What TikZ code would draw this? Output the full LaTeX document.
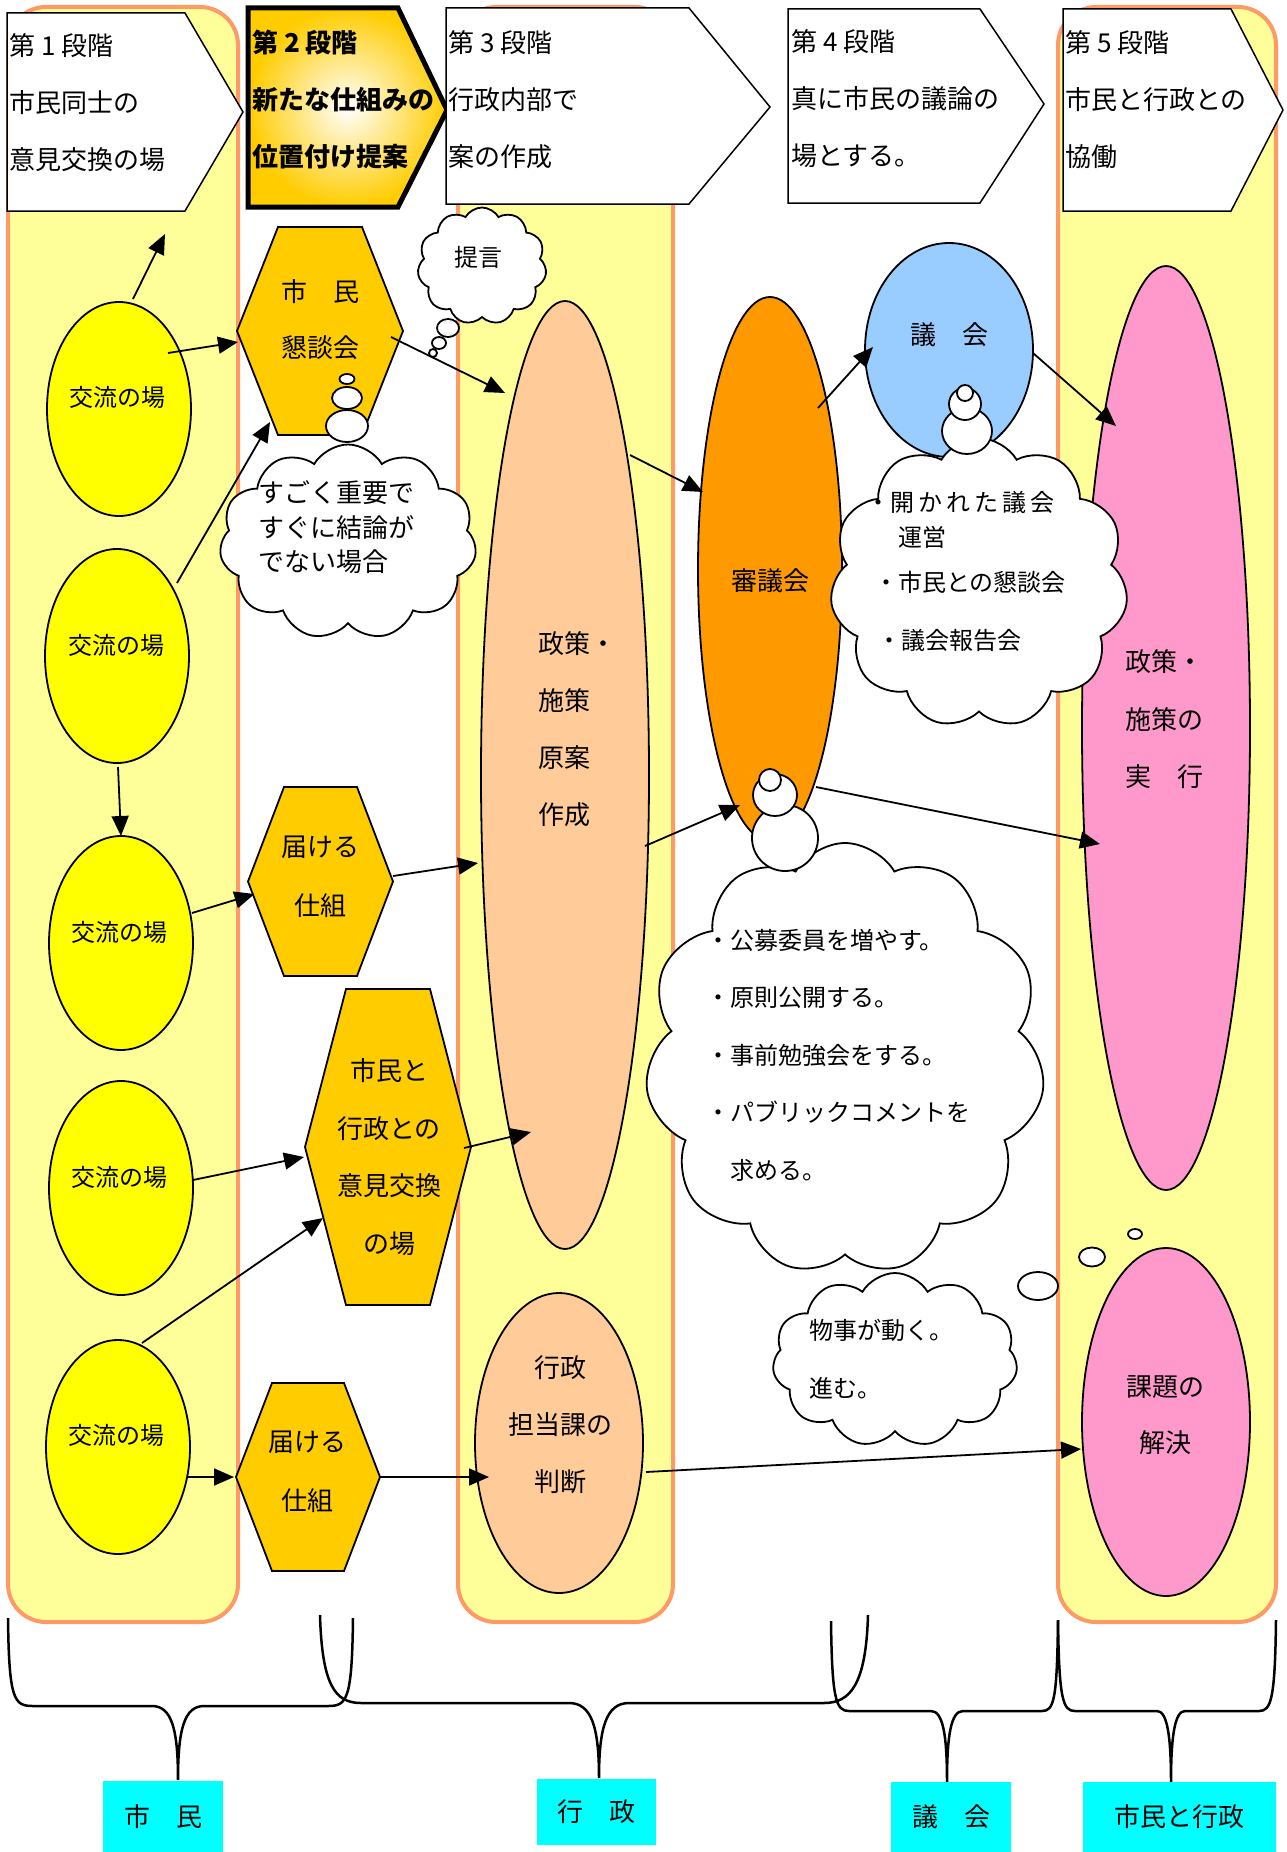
\documentclass[tikz,border=0pt]{standalone}
\usepackage{fontspec}
\setmainfont{Noto Sans CJK JP}
\usetikzlibrary{shapes.geometric,shapes.symbols,arrows.meta,calc}
\definecolor{colfill}{HTML}{FFFF99}
\definecolor{colline}{HTML}{FF9966}
\definecolor{yel}{HTML}{FFFF00}
\definecolor{hexc}{HTML}{FFCC00}
\definecolor{peach}{HTML}{FFCC99}
\definecolor{orng}{HTML}{FF9900}
\definecolor{blu}{HTML}{99CCFF}
\definecolor{pnk}{HTML}{FF99CC}
\definecolor{cyn}{HTML}{00FFFF}
\tikzset{
  column/.style={fill=colfill, draw=colline, line width=4pt, rounded corners=38pt},
  header/.style={fill=white, draw=black, line width=1.5pt},
  oval/.style={ellipse, draw=black, line width=1.8pt, inner sep=0pt, outer sep=0pt},
  hexline/.style={fill=hexc, draw=black, line width=1.8pt},
  conn/.style={line width=1.8pt, -{Triangle[length=20pt,width=17pt]}},
  bubble/.style={fill=white, draw=black, line width=1.8pt},
  cloudy/.style={cloud, cloud puffs=11, cloud puff arc=120, cloud ignores aspect, draw=black, fill=white, line width=1.8pt, inner sep=0pt},
  brace/.style={line width=2.5pt},
  tag/.style={fill=cyn, inner sep=0pt, font=\fontsize{26}{30}\selectfont},
  f24/.style={inner sep=0pt, font=\fontsize{24}{30}\selectfont},
  f26/.style={inner sep=0pt, font=\fontsize{26}{30}\selectfont},
  hdr/.style={inner sep=0pt, anchor=west, align=left, font=\fontsize{26}{57}\selectfont},
}
\newcommand\myhex[6]{%
  \node[inner sep=0pt, outer sep=0pt, minimum width=#4pt, minimum height=#5pt] (#1) at (#2,#3) {};
  \draw[hexline] ([xshift=#6pt]#1.north west) -- ([xshift=-#6pt]#1.north east) -- (#1.east) -- ([xshift=-#6pt]#1.south east) -- ([xshift=#6pt]#1.south west) -- (#1.west) -- cycle;}
\begin{document}
\begin{tikzpicture}[x=1pt,y=-1pt]
\useasboundingbox (0,0) rectangle (1286,1852);
\fill[white] (0,0) rectangle (1286,1852);
% columns
\draw[column] (8,7) rectangle (238,1622);
\draw[column] (458,7) rectangle (673,1622);
\draw[column] (1058,7) rectangle (1276,1622);
% headers
\draw[header] (7,13) -- (185,13) -- (243,112) -- (185,211) -- (7,211) -- cycle;
\shade[inner color=white, outer color=hexc] (248,8) -- (398,8) -- (447,110) -- (398,207) -- (248,207) -- cycle;
\draw[line width=5pt] (248,8) -- (398,8) -- (447,110) -- (398,207) -- (248,207) -- cycle;
\draw[header] (446,8) -- (689,8) -- (770,107) -- (689,204) -- (446,204) -- cycle;
\draw[header] (788,9) -- (980,9) -- (1044,104) -- (980,203) -- (788,203) -- cycle;
\draw[header] (1063,9) -- (1231,9) -- (1283,110) -- (1231,211) -- (1063,211) -- cycle;
\node[hdr] (h1) at (9,102.5) {第 1 段階\\市民同士の\\意見交換の場};
\node[hdr, font=\fontsize{26}{57}\selectfont\bfseries] (h2) at (252,100) {第 2 段階\\新たな仕組みの\\位置付け提案};
\node[hdr] (h3) at (448,99.5) {第 3 段階\\行政内部で\\案の作成};
\node[hdr] (h4) at (791,99) {第 4 段階\\真に市民の議論の\\場とする。};
\node[hdr] (h5) at (1065,99.5) {第 5 段階\\市民と行政との\\協働};
% braces
\draw[brace] (8,1618) .. controls (9,1700) and (14,1706) .. (33,1706) -- (152,1706) .. controls (172,1706) and (178,1730) .. (178,1780) .. controls (178,1730) and (184,1706) .. (204,1706) -- (328,1706) .. controls (347,1706) and (352,1700) .. (353,1618);
\draw[brace] (320,1615) .. controls (322,1685) and (335,1703) .. (361,1703) -- (569,1703) .. controls (592,1703) and (599,1728) .. (599,1778) .. controls (599,1728) and (606,1703) .. (629,1703) -- (824,1703) .. controls (850,1703) and (866,1685) .. (868,1615);
\draw[brace] (831,1621) .. controls (832,1700) and (836,1711) .. (849,1711) -- (931,1711) .. controls (943,1711) and (947,1735) .. (947,1782) .. controls (947,1735) and (951,1711) .. (963,1711) -- (1042,1711) .. controls (1054,1711) and (1057,1700) .. (1058,1620);
\draw[brace] (1058,1620) .. controls (1059,1700) and (1063,1711) .. (1075,1711) -- (1157,1711) .. controls (1167,1711) and (1171,1735) .. (1171,1782) .. controls (1171,1735) and (1175,1711) .. (1185,1711) -- (1259,1711) .. controls (1271,1711) and (1275,1700) .. (1276,1620);
% tags
\node[tag, minimum width=120pt, minimum height=71pt] (lab1) at (163,1816.5) {市　民};
\node[tag, minimum width=119pt, minimum height=66pt] (lab2) at (596.5,1812) {行　政};
\node[tag, minimum width=120pt, minimum height=70pt] (lab3) at (951,1817) {議　会};
\node[tag, minimum width=193pt, minimum height=70pt] (lab4) at (1179.5,1817) {市民と行政};
% yellow ovals
\node[oval, fill=yel, minimum width=144pt, minimum height=214pt] (e1) at (119,409) {};
\node[oval, fill=yel, minimum width=144pt, minimum height=214pt] (e2) at (117,656) {};
\node[oval, fill=yel, minimum width=144pt, minimum height=214pt] (e3) at (121,943) {};
\node[oval, fill=yel, minimum width=144pt, minimum height=214pt] (e4) at (121,1188) {};
\node[oval, fill=yel, minimum width=144pt, minimum height=214pt] (e5) at (118,1447) {};
% hexagons
\myhex{hk}{320}{331}{166}{208}{41}
\myhex{hs1}{320.5}{881.5}{145}{189}{36}
\myhex{hi}{388}{1147}{166}{316}{41}
\myhex{hs2}{308}{1477}{144}{188}{36}
% other ovals
\node[oval, fill=peach, minimum width=168pt, minimum height=948pt] (pol) at (565,775) {};
\node[oval, fill=peach, minimum width=168pt, minimum height=300pt] (gyo) at (559,1443) {};
\node[oval, fill=orng, minimum width=144pt, minimum height=544pt] (shin) at (770,569) {};
\node[oval, fill=blu, minimum width=168pt, minimum height=214pt] (gik) at (949,350) {};
\node[oval, fill=pnk, minimum width=168pt, minimum height=924pt] (jik) at (1166,728) {};
\node[oval, fill=pnk, minimum width=168pt, minimum height=348pt] (kai) at (1166,1422) {};
% clouds
\node[cloudy, minimum width=129pt, minimum height=117pt] (ct) at (482,266) {};
\node[cloudy, minimum width=257pt, minimum height=195pt] (cs) at (348,542) {};
\node[cloudy, minimum width=298pt, minimum height=290pt] (cg) at (979,583) {};
\node[cloudy, minimum width=400pt, minimum height=432pt] (ck) at (845,1059) {};
\node[cloudy, minimum width=245pt, minimum height=174pt] (cm) at (895,1360) {};
% thought bubbles
\draw[bubble] (448,328) ellipse [x radius=11pt, y radius=9pt];
\draw[bubble] (439,343) ellipse [x radius=7pt, y radius=6pt];
\draw[bubble] (433,353) ellipse [x radius=4pt, y radius=4pt];
\draw[bubble] (347,426) ellipse [x radius=21pt, y radius=16pt];
\draw[bubble] (347,398) ellipse [x radius=15pt, y radius=11pt];
\draw[bubble] (347,379) ellipse [x radius=7.5pt, y radius=5pt];
\draw[bubble] (967,431) ellipse [x radius=25pt, y radius=23pt];
\draw[bubble] (965,404) ellipse [x radius=16pt, y radius=16pt];
\draw[bubble] (965,393) ellipse [x radius=8pt, y radius=8pt];
\draw[bubble] (785,838) ellipse [x radius=33pt, y radius=33pt];
\draw[bubble] (775,795) ellipse [x radius=22pt, y radius=21pt];
\draw[bubble] (770,780) ellipse [x radius=11pt, y radius=11pt];
\draw[bubble] (1038,1286) ellipse [x radius=20pt, y radius=14pt];
\draw[bubble] (1092,1257) ellipse [x radius=13pt, y radius=9.5pt];
\draw[bubble] (1135,1234) ellipse [x radius=7pt, y radius=5pt];
% connectors
\coordinate (up1) at (165,234);
\draw[conn] ($(e1)+(14,-110)$) -- (up1);
\draw[conn] ($(e1)+(49,-56)$) -- ($(hk)+(-82,11)$);
\draw[conn] ($(e2)+(60,-73)$) -- ($(hk)+(-50,91)$);
\draw[conn] ($(e2.south)+(1,4)$) -- (e3.north);
\draw[conn] ($(e3)+(71,-30)$) -- ($(hs1)+(-66,12.5)$);
\draw[conn] ($(hs1)+(72.5,-5.5)$) -- ($(pol)+(-87,88)$);
\draw[conn] ($(e4)+(72,-8)$) -- ($(hi)+(-84,10)$);
\draw[conn] ($(e5)+(24,-104)$) -- ($(hi)+(-65,71)$);
\draw[conn] ($(hi)+(76,1)$) -- ($(pol)+(-34,357)$);
\draw[conn] ($(e5)+(70,30)$) -- ($(hs2)+(-74,0)$);
\draw[conn] ($(hs2)+(72,0)$) -- ($(gyo)+(-70,34)$);
\draw[conn] ($(gyo)+(87,29)$) -- ($(kai)+(-85,27)$);
\draw[conn] ($(hk)+(71,6)$) -- ($(pol)+(-60,-382)$);
\draw[conn] ($(pol)+(65,-320)$) -- ($(shin)+(-67,-77)$);
\draw[conn] ($(pol)+(80,71)$) -- ($(shin)+(-30,236)$);
\draw[conn] ($(shin)+(48,-161)$) -- ($(gik)+(-76,-3)$);
\draw[conn] ($(gik)+(84,3)$) -- ($(jik)+(-50,-302)$);
\draw[conn] ($(shin)+(46,218)$) -- ($(jik)+(-66,116)$);
% texts
\node[f24] (e1t) at (117,397) {交流の場};
\node[f24] (e2t) at (116,645) {交流の場};
\node[f24] (e3t) at (119,932) {交流の場};
\node[f24] (e4t) at (119,1177) {交流の場};
\node[f24] (e5t) at (116,1435) {交流の場};
\node[f26, align=center, font=\fontsize{26}{56}\selectfont] (hkt) at (320,320) {市　民\\懇談会};
\node[f26, align=center, font=\fontsize{26}{59}\selectfont] (hs1t) at (320,876.5) {届ける\\仕組};
\node[f26, align=center, font=\fontsize{26}{57.5}\selectfont] (hit) at (389,1157) {市民と\\行政との\\意見交換\\の場};
\node[f26, align=center, font=\fontsize{26}{59}\selectfont] (hs2t) at (307,1472) {届ける\\仕組};
\node[f26, anchor=west, align=left, font=\fontsize{26}{57}\selectfont] (polt) at (538,729.5) {政策・\\施策\\原案\\作成};
\node[f26, align=center, font=\fontsize{26}{57}\selectfont] (gyot) at (560,1425) {行政\\担当課の\\判断};
\node[f26] (shint) at (770,581) {審議会};
\node[f26] (gikt) at (949,335) {議　会};
\node[f26, anchor=west, align=left, font=\fontsize{26}{57.5}\selectfont] (jikt) at (1125,719.5) {政策・\\施策の\\実　行};
\node[f26, align=center, font=\fontsize{26}{56}\selectfont] (kait) at (1165,1415) {課題の\\解決};
\node[f24] (ctt) at (478,257) {提言};
\node[inner sep=0pt, anchor=west, align=left, font=\fontsize{26}{34.5}\selectfont] (cst) at (258,527.5) {すごく重要で\\すぐに結論が\\でない場合};
\node[f24, anchor=west] (cg1) at (866,502) {・開\,か\,れ\,た\,議\,会};
\node[f24, anchor=west] (cg2) at (898,537) {運営};
\node[f24, anchor=west] (cg3) at (874,582) {・市民との懇談会};
\node[f24, anchor=west] (cg4) at (877,640) {・議会報告会};
\node[inner sep=0pt, anchor=west, align=left, font=\fontsize{24}{57.5}\selectfont] (ckt) at (706,1055) {・公募委員を増やす。\\・原則公開する。\\・事前勉強会をする。\\・パブリックコメントを\\　求める。};
\node[inner sep=0pt, anchor=west, align=left, font=\fontsize{24}{58}\selectfont] (cmt) at (809,1359) {物事が動く。\\進む。};
\end{tikzpicture}
\end{document}
